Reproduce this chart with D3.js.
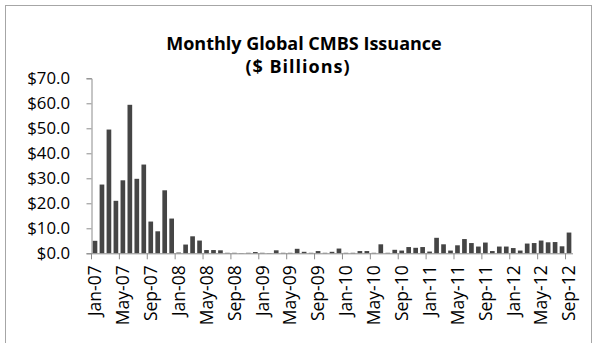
<!DOCTYPE html>
<html>
<head>
<meta charset="utf-8">
<script src="https://cdnjs.cloudflare.com/ajax/libs/d3/7.8.5/d3.min.js"></script>
<style>
  html, body { margin: 0; padding: 0; background: #ffffff; }
  svg { display: block; }
  text { font-family: "Open Sans", "Noto Sans", sans-serif; fill: #000; }
</style>
</head>
<body>
<svg id="chart" width="595" height="343"></svg>
<script>
// Monthly global CMBS issuance, $ billions, Jan 2007 – Sep 2012
const monthNames = ["Jan","Feb","Mar","Apr","May","Jun","Jul","Aug","Sep","Oct","Nov","Dec"];
const years = ["07","08","09","10","11","12"];
const months = [];
years.forEach(y => monthNames.forEach(m => months.push(m + "-" + y)));
months.splice(69); // through Sep-12

const issuance2007 = [5.0, 27.5, 49.5, 21.0, 29.2, 59.4, 29.8, 35.5, 12.7, 8.8, 25.2, 13.9];
const issuance2008 = [0.3, 3.5, 6.8, 5.1, 1.3, 1.3, 1.2, 0.2, 0.2, 0.1, 0.2, 0.5];
const issuance2009 = [0.2, 0.1, 1.2, 0.2, 0.2, 1.8, 0.6, 0.2, 0.9, 0.2, 0.6, 1.9];
const issuance2010 = [0.2, 0.2, 0.9, 0.9, 0.2, 3.6, 0.2, 1.4, 1.1, 2.5, 2.2, 2.5];
const issuance2011 = [0.7, 6.2, 3.6, 1.1, 3.2, 5.7, 4.1, 2.7, 4.3, 0.9, 2.7, 2.7];
const issuance2012 = [2.1, 1.1, 3.9, 4.1, 5.1, 4.4, 4.5, 2.8, 8.3];

const values = [].concat(issuance2007, issuance2008, issuance2009,
                         issuance2010, issuance2011, issuance2012);

const yTicks = [0, 10, 20, 30, 40, 50, 60, 70];
const titleLines = ["Monthly Global CMBS Issuance", "($ Billions)"];

const data = months.map((m, i) => ({ month: m, value: values[i] }));

const svg = d3.select("#chart");

// chart area border
svg.append("rect")
  .attr("x", 5.5).attr("y", 5.5)
  .attr("width", 586).attr("height", 345)
  .attr("fill", "#fff")
  .attr("stroke", "#a6a6a6")
  .attr("stroke-width", 1);

const plot = { left: 91.5, right: 572.5, top: 78.3, bottom: 253.3 };

const x = d3.scaleBand()
  .domain(months)
  .range([plot.left, plot.right])
  .paddingInner(0.33)
  .paddingOuter(0.165);

const y = d3.scaleLinear()
  .domain([0, 70])
  .range([plot.bottom, plot.top]);

// bars
svg.append("g")
  .selectAll("rect")
  .data(data)
  .join("rect")
  .attr("x", d => x(d.month))
  .attr("y", d => y(d.value))
  .attr("width", x.bandwidth())
  .attr("height", d => y(0) - y(d.value))
  .attr("fill", "#454545");

// y axis
const yAxis = svg.append("g")
  .attr("transform", `translate(${plot.left},0)`)
  .call(d3.axisLeft(y)
    .tickValues(yTicks)
    .tickSize(5)
    .tickPadding(16.5)
    .tickFormat(d => "$" + d.toFixed(1)));
yAxis.select(".domain").attr("stroke", "#8c8c8c");
yAxis.selectAll(".tick line").attr("stroke", "#8c8c8c");
yAxis.selectAll(".tick text")
  .style("font-size", "16.8px")
  .attr("fill", "#000");

// x axis: labels every 4 months, tick marks between categories
const labelMonths = months.filter((m, i) => i % 4 === 0);
const xAxis = svg.append("g")
  .attr("transform", `translate(0,${plot.bottom})`)
  .call(d3.axisBottom(x)
    .tickValues(labelMonths)
    .tickSize(0)
    .tickPadding(0));
xAxis.select(".domain").attr("stroke", "#8c8c8c");
xAxis.selectAll(".tick text")
  .style("font-size", "17.5px")
  .attr("text-anchor", "end")
  .attr("transform", "rotate(-90)")
  .attr("x", -12)
  .attr("y", 0)
  .attr("dy", "0.36em");

xAxis.append("g")
  .selectAll("line")
  .data(labelMonths)
  .join("line")
  .attr("x1", d => x(d) + x.bandwidth() / 2 - x.step() / 2)
  .attr("x2", d => x(d) + x.bandwidth() / 2 - x.step() / 2)
  .attr("y1", 0)
  .attr("y2", 6)
  .attr("stroke", "#8c8c8c");

// title
svg.append("text")
  .attr("x", 302)
  .attr("y", 49.5)
  .attr("text-anchor", "middle")
  .style("font-size", "18px")
  .style("font-weight", "bold")
  .selectAll("tspan")
  .data(titleLines)
  .join("tspan")
  .attr("x", (d, i) => i === 0 ? 304 : 298)
  .attr("dy", (d, i) => i === 0 ? 0 : 23)
  .style("letter-spacing", (d, i) => i === 0 ? "0px" : "1px")
  .text(d => d);
</script>
</body>
</html>
